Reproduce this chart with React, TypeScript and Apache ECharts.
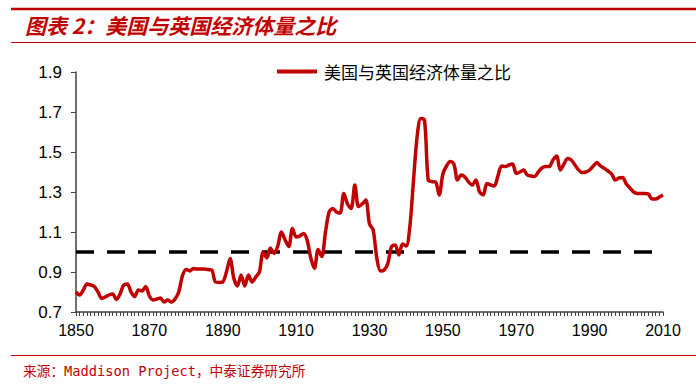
import React, { useEffect, useRef } from "react";
import * as echarts from "echarts";

const years: string[] = [];
for (let y = 1850; y <= 2010; y++) years.push(String(y));

const ratio: number[] = [
  // 1850-1859
  0.8, 0.785, 0.81, 0.84, 0.835, 0.827, 0.8, 0.768, 0.775, 0.785,
  // 1860-1869
  0.79, 0.763, 0.79, 0.835, 0.84, 0.8, 0.777, 0.81, 0.805, 0.827,
  // 1870-1879
  0.78, 0.76, 0.765, 0.77, 0.75, 0.76, 0.75, 0.765, 0.8, 0.88,
  // 1880-1889
  0.913, 0.905, 0.918, 0.915, 0.915, 0.915, 0.912, 0.91, 0.85, 0.848,
  // 1890-1899
  0.85, 0.9, 0.968, 0.87, 0.83, 0.885, 0.83, 0.885, 0.85, 0.875,
  // 1900-1909
  0.9, 1.0, 0.97, 1.02, 0.993, 1.03, 1.1, 1.06, 1.027, 1.118,
  // 1910-1919
  1.075, 1.08, 1.093, 1.06, 0.97, 0.918, 1.013, 0.977, 1.1, 1.2,
  // 1920-1929
  1.218, 1.2, 1.195, 1.293, 1.24, 1.218, 1.335, 1.227, 1.24, 1.26,
  // 1930-1939
  1.14, 1.11, 0.968, 0.905, 0.91, 0.943, 1.027, 1.035, 0.985, 1.04,
  // 1940-1949
  1.03, 1.127, 1.36, 1.58, 1.668, 1.66, 1.36, 1.352, 1.35, 1.285,
  // 1950-1959
  1.39, 1.43, 1.452, 1.44, 1.36, 1.385, 1.375, 1.35, 1.335, 1.36,
  // 1960-1969
  1.3, 1.285, 1.343, 1.335, 1.33, 1.38, 1.43, 1.427, 1.435, 1.44,
  // 1970-1979
  1.393, 1.4, 1.41, 1.385, 1.38, 1.377, 1.4, 1.42, 1.427, 1.427,
  // 1980-1989
  1.46, 1.48, 1.41, 1.44, 1.468, 1.46, 1.435, 1.41, 1.397, 1.4,
  // 1990-1999
  1.41, 1.43, 1.447, 1.43, 1.418, 1.405, 1.39, 1.36, 1.37, 1.373,
  // 2000-2010
  1.34, 1.32, 1.3, 1.293, 1.293, 1.293, 1.29, 1.265, 1.265, 1.275, 1.285,
];

const parityValue = 1.0;
const parity: number[] = years.map(() => parityValue);

const seriesName = "美国与英国经济体量之比";
const titleText = "图表 2：美国与英国经济体量之比";
const sourceText = "来源：Maddison Project，中泰证券研究所";

export default function App() {
  const ref = useRef<HTMLDivElement>(null);
  useEffect(() => {
    if (!ref.current) return;
    const chart = echarts.init(ref.current, null, { renderer: "svg" });
    const red = "#C00000";
    chart.setOption({
      animation: false,
      backgroundColor: "#ffffff",
      grid: { left: 76, right: 33, top: 72, bottom: 78 },
      legend: {
        data: [{ name: seriesName, icon: "rect" }],
        left: 272,
        top: 58,
        itemWidth: 40,
        itemHeight: 4,
        itemGap: 10,
        textStyle: { fontSize: 17, color: "#000", fontFamily: "Noto Sans CJK SC", padding: [0, 0, 0, 2] },
      },
      xAxis: {
        type: "category",
        data: years,
        boundaryGap: false,
        axisLine: { lineStyle: { color: "#404040", width: 1.5 } },
        axisTick: { show: true, interval: 0, length: 4, lineStyle: { color: "#404040", width: 1 } },
        axisLabel: {
          interval: 19,
          fontSize: 16,
          color: "#000",
          fontFamily: "Liberation Sans, Arial",
          margin: 10,
        },
        splitLine: { show: false },
      },
      yAxis: {
        type: "value",
        min: 0.7,
        max: 1.9,
        interval: 0.2,
        axisLine: { show: true, lineStyle: { color: "#404040", width: 1.5 } },
        axisTick: { show: true, inside: false, length: 5, lineStyle: { color: "#404040" } },
        axisLabel: {
          fontSize: 17,
          color: "#000",
          fontFamily: "Liberation Sans, Arial",
          margin: 14,
          formatter: (v: number) => v.toFixed(1),
        },
        splitLine: { show: false },
      },
      series: [
        {
          name: "parity",
          type: "line",
          data: parity,
          symbol: "none",
          lineStyle: { color: "#000", width: 3.5, type: [18, 13] },
          silent: true,
          z: 2,
        },
        {
          name: seriesName,
          type: "line",
          data: ratio,
          symbol: "none",
          smooth: 0.3,
          lineStyle: { color: red, width: 3.5 },
          itemStyle: { color: red },
          z: 3,
        },
      ],
      graphic: [
        { type: "line", shape: { x1: 11, y1: 9, x2: 696, y2: 9 }, style: { stroke: red, lineWidth: 2.5 } },
        {
          type: "text",
          left: 25,
          top: 14,
          style: {
            text: titleText,
            fill: red,
            font: "italic bold 21px 'Noto Sans CJK SC'",
          },
        },
        { type: "line", shape: { x1: 11, y1: 42.5, x2: 696, y2: 42.5 }, style: { stroke: red, lineWidth: 1 } },
        { type: "line", shape: { x1: 11, y1: 355.5, x2: 696, y2: 355.5 }, style: { stroke: red, lineWidth: 1 } },
        {
          type: "text",
          left: 23,
          top: 364,
          style: {
            text: sourceText,
            fill: red,
            font: "13.7px 'DejaVu Sans Mono', 'Noto Sans CJK SC'",
          },
        },
      ],
    });
    return () => chart.dispose();
  }, []);
  return (
    <div
      ref={ref}
      style={{ position: "fixed", left: 0, top: 0, width: 696, height: 390, background: "#fff" }}
    />
  );
}
